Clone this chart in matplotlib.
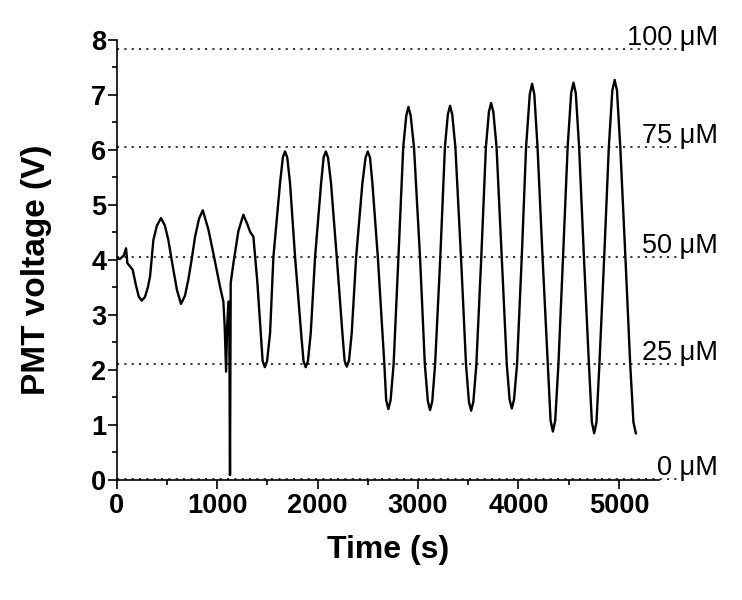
import matplotlib
matplotlib.use("Agg")
import matplotlib.pyplot as plt
from matplotlib.ticker import MultipleLocator

plt.rcParams["font.family"] = ["Liberation Sans", "DejaVu Sans"]

# PMT trace (time in s, voltage in V)
time_s = [
    0, 35, 70, 93, 106, 132, 159, 190, 220, 249, 280, 310, 332, 365, 400, 441,
    480, 514, 564, 600, 640, 680, 713, 750, 780, 820, 857, 913, 962, 1029, 1062,
    1075, 1089, 1100, 1112, 1120, 1128, 1135, 1162, 1211, 1261, 1300, 1328, 1361,
    1400, 1430, 1453, 1475,
    1497, 1527, 1560, 1626, 1654, 1676, 1698, 1726, 1776, 1836, 1860, 1882, 1904,
    1932, 1975, 2035, 2060, 2082, 2104, 2134, 2191, 2247, 2269, 2291, 2313, 2340,
    2384, 2446, 2478, 2500, 2522, 2546, 2600, 2665, 2683, 2705,
    2727, 2757, 2805, 2853, 2883, 2905, 2927, 2960, 3020, 3068, 3098, 3120, 3142,
    3170, 3222, 3268, 3297, 3319, 3341, 3372, 3428, 3478, 3507, 3529, 3551, 3581,
    3630, 3676, 3706, 3728, 3750, 3782, 3834, 3884, 3912, 3934, 3956, 3986, 4033,
    4076, 4113, 4136, 4158, 4190, 4240, 4292, 4320, 4343, 4366, 4398, 4444, 4490,
    4525, 4548, 4571, 4604, 4652, 4702, 4731, 4754, 4777, 4806, 4854, 4900, 4935,
    4958, 4981, 5014, 5065, 5113, 5145, 5169,
]
pmt_v = [
    4.02, 4.02, 4.08, 4.21, 3.94, 3.88, 3.82, 3.55, 3.33, 3.26, 3.32, 3.50, 3.70,
    4.36, 4.62, 4.76, 4.62, 4.36, 3.82, 3.45, 3.20, 3.35, 3.64, 4.05, 4.42, 4.75,
    4.90, 4.55, 4.12, 3.51, 3.24, 2.80, 1.97, 2.80, 3.24, 3.24, 0.09, 3.58, 3.94,
    4.52, 4.82, 4.65, 4.51, 4.42, 3.60, 2.80, 2.16, 2.05,
    2.16, 2.67, 4.05, 5.39, 5.86, 5.97, 5.86, 5.39, 4.05, 2.67, 2.16, 2.05, 2.16,
    2.67, 4.05, 5.39, 5.86, 5.97, 5.86, 5.39, 4.05, 2.67, 2.17, 2.06, 2.17, 2.67,
    4.05, 5.39, 5.86, 5.97, 5.86, 5.39, 4.05, 2.10, 1.45, 1.29,
    1.45, 2.10, 4.05, 6.05, 6.62, 6.78, 6.62, 6.05, 4.05, 2.10, 1.43, 1.27, 1.43,
    2.10, 4.05, 6.05, 6.64, 6.80, 6.64, 6.05, 4.05, 2.10, 1.42, 1.26, 1.42, 2.10,
    4.05, 6.05, 6.69, 6.85, 6.69, 6.05, 4.05, 2.10, 1.46, 1.30, 1.46, 2.10, 4.05,
    6.05, 7.01, 7.20, 7.01, 6.05, 4.05, 2.10, 1.08, 0.88, 1.08, 2.10, 4.05, 6.05,
    7.03, 7.22, 7.03, 6.05, 4.05, 2.10, 1.05, 0.85, 1.05, 2.10, 4.05, 6.05, 7.08,
    7.27, 7.08, 6.05, 4.05, 2.10, 1.05, 0.85,
]

# calibration levels
conc_labels = ["100 \u03bcM", "75 \u03bcM", "50 \u03bcM", "25 \u03bcM", "0 \u03bcM"]
conc_levels = [7.83, 6.05, 4.05, 2.10, 0.02]

fig = plt.figure(figsize=(7.42, 6), dpi=100)
ax = fig.add_axes([0.1573, 0.2, 0.7309, 0.7338])

for lab, lev in zip(conc_labels, conc_levels):
    ax.plot([0, 5630], [lev, lev], color="black", lw=1.1,
            linestyle=(0, (1.4, 3.4)), clip_on=False, zorder=1)
    ax.annotate(lab, xy=(5990, lev), xytext=(0, 3), textcoords="offset points",
                ha="right", va="baseline", fontsize=19.5, annotation_clip=False)

ax.plot(time_s, pmt_v, color="black", lw=1.7, zorder=3)

ax.set_xlim(0, 5400)
ax.set_ylim(0, 8)
ax.xaxis.set_major_locator(MultipleLocator(1000))
ax.xaxis.set_minor_locator(MultipleLocator(500))
ax.yaxis.set_major_locator(MultipleLocator(1))
ax.yaxis.set_minor_locator(MultipleLocator(0.5))

for side in ["top", "right"]:
    ax.spines[side].set_visible(False)
for side in ["left", "bottom"]:
    ax.spines[side].set_linewidth(1.2)

ax.tick_params(which="major", direction="out", length=6.5, width=1.2,
               labelsize=19.5, pad=1)
ax.tick_params(which="minor", direction="out", length=3.5, width=1.2)
ax.tick_params(axis="x", which="major", pad=3)
for t in ax.get_xticklabels() + ax.get_yticklabels():
    t.set_fontweight("bold")

ax.set_xlabel("Time (s)", fontsize=23, fontweight="bold")
ax.set_ylabel("PMT voltage (V)", fontsize=24, fontweight="bold")
ax.xaxis.set_label_coords(0.5, -0.125)
ax.yaxis.set_label_coords(-0.12, 0.477)

fig.savefig("out.png", dpi=100)
